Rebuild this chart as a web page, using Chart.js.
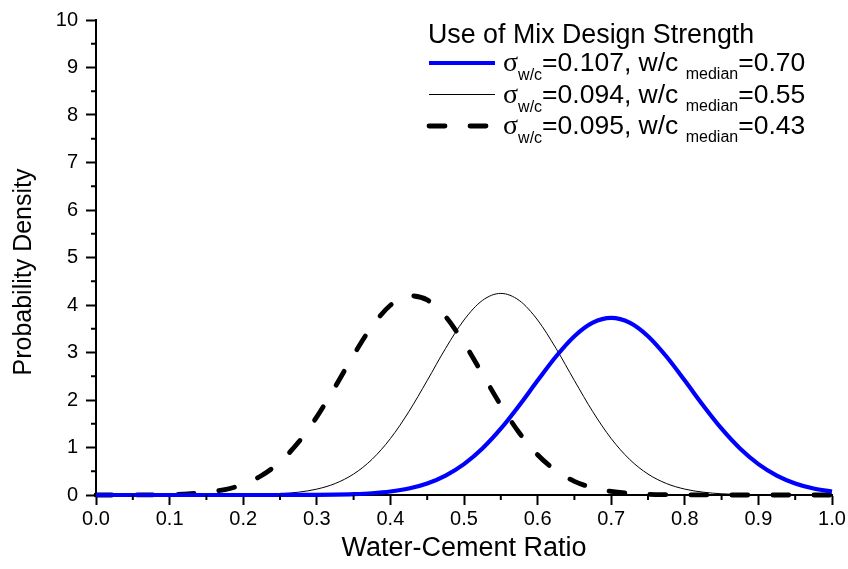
<!DOCTYPE html>
<html lang="en">
<head>
<meta charset="UTF-8">
<title>Water-Cement Ratio Distribution</title>
<script src="https://cdn.jsdelivr.net/npm/chart.js@4"></script>
<style>
  body { margin: 0; background: #fff; }
  #wrap { width: 848px; height: 569px; }
</style>
</head>
<body>
<div id="wrap"><canvas id="pdfChart" width="848" height="569"></canvas></div>
<script>
// water-cement ratio sample points
const wcRatio = [0.000, 0.025, 0.050, 0.075, 0.100, 0.125, 0.150, 0.175, 0.200, 0.225,
                 0.250, 0.275, 0.300, 0.325, 0.350, 0.375, 0.400, 0.425, 0.450, 0.475,
                 0.500, 0.525, 0.550, 0.575, 0.600, 0.625, 0.650, 0.675, 0.700, 0.725,
                 0.750, 0.775, 0.800, 0.825, 0.850, 0.875, 0.900, 0.925, 0.950, 0.975, 1.000];

// probability density for each mix design
const density070 = [0, 0, 0, 0, 0, 0, 0, 0, 0, 0.0001,
                    0.0005, 0.0014, 0.0034, 0.008, 0.018, 0.037, 0.073, 0.137, 0.243, 0.409,
                    0.650, 0.979, 1.395, 1.884, 2.409, 2.916, 3.343, 3.628, 3.728, 3.628,
                    3.343, 2.916, 2.409, 1.884, 1.395, 0.979, 0.650, 0.409, 0.243, 0.137, 0.073];
const density055 = [0, 0, 0, 0, 0, 0, 0.0005, 0.0015, 0.004, 0.011,
                    0.026, 0.059, 0.124, 0.242, 0.441, 0.750, 1.188, 1.753, 2.410, 3.087,
                    3.684, 4.096, 4.244, 4.096, 3.684, 3.087, 2.410, 1.753, 1.188, 0.750,
                    0.441, 0.242, 0.124, 0.059, 0.026, 0.011, 0.004, 0.0015, 0.0005, 0, 0];
const density043 = [0.0002, 0.0005, 0.0014, 0.004, 0.010, 0.024, 0.055, 0.114, 0.224, 0.409,
                    0.697, 1.109, 1.646, 2.280, 2.946, 3.551, 3.995, 4.193, 4.107, 3.754,
                    3.200, 2.547, 1.891, 1.310, 0.847, 0.511, 0.288, 0.151, 0.074, 0.034,
                    0.014, 0.006, 0.002, 0.0007, 0.0002, 0, 0, 0, 0, 0, 0];

const sigmas = ['0.107', '0.094', '0.095'];
const medians = ['0.70', '0.55', '0.43'];

// labelled (major) ticks
const xMajorTicks = [0.0, 0.1, 0.2, 0.3, 0.4, 0.5, 0.6, 0.7, 0.8, 0.9, 1.0];
const yMajorTicks = [0, 1, 2, 3, 4, 5, 6, 7, 8, 9, 10];

const FONT = '"Liberation Sans", Arial, sans-serif';

function toPoints(ys) {
    return wcRatio.map((x, i) => ({ x: x, y: ys[i] }));
}
function isMajor(list, v) {
    return list.some(t => Math.abs(t - v) < 1e-6);
}

// short minor ticks between the labelled ones, plus the y axis title
const axisExtras = {
    id: 'axisExtras',
    afterDraw(chart) {
        const ctx = chart.ctx;
        const xs = chart.scales.x, ys = chart.scales.y;
        ctx.save();
        ctx.strokeStyle = '#000';
        ctx.lineWidth = 2;
        ctx.beginPath();
        xs.ticks.forEach(t => {
            if (isMajor(xMajorTicks, t.value)) return;
            const px = xs.getPixelForValue(t.value);
            ctx.moveTo(px, ys.bottom);
            ctx.lineTo(px, ys.bottom + 5);
        });
        ys.ticks.forEach(t => {
            if (isMajor(yMajorTicks, t.value)) return;
            const py = ys.getPixelForValue(t.value);
            ctx.moveTo(xs.left, py);
            ctx.lineTo(xs.left - 5, py);
        });
        ctx.stroke();

        ctx.translate(24, 272);
        ctx.rotate(-Math.PI / 2);
        ctx.fillStyle = '#000';
        ctx.font = '25px ' + FONT;
        ctx.textAlign = 'center';
        ctx.textBaseline = 'middle';
        ctx.fillText('Probability Density', 0, 0);
        ctx.restore();
    }
};

// legend box with subscripted labels
const mixLegend = {
    id: 'mixLegend',
    afterDraw(chart) {
        const ctx = chart.ctx;
        ctx.save();
        ctx.fillStyle = '#000';
        ctx.textBaseline = 'alphabetic';
        ctx.textAlign = 'left';
        ctx.font = '26.8px ' + FONT;
        ctx.fillText('Use of Mix Design Strength', 428, 43);

        chart.data.datasets.forEach((ds, i) => {
            const y = 63 + i * 31.5;
            ctx.beginPath();
            ctx.strokeStyle = ds.borderColor;
            ctx.lineWidth = ds.borderWidth;
            ctx.lineCap = ds.borderCapStyle || 'butt';
            ctx.setLineDash(ds.borderDash || []);
            ctx.moveTo(429, y);
            ctx.lineTo(495, y);
            ctx.stroke();
            ctx.setLineDash([]);

            const base = y + 8;
            let x = 503;
            const put = (text, font, dy) => {
                ctx.font = font;
                ctx.fillText(text, x, base + dy);
                x += ctx.measureText(text).width;
            };
            put('\u03c3', '28px "Liberation Serif", serif', 0);
            put('w/c', '16px ' + FONT, 9);
            put('=' + sigmas[i] + ', w/c ', '26.5px ' + FONT, 0);
            put('median', '16px ' + FONT, 8);
            put('=' + medians[i], '26.5px ' + FONT, 0);
        });
        ctx.restore();
    }
};

new Chart(document.getElementById('pdfChart'), {
    type: 'line',
    data: {
        datasets: [
            {
                label: '\u03c3w/c=0.107, w/c median=0.70',
                data: toPoints(density070),
                borderColor: '#0000ff',
                borderWidth: 4.2,
                cubicInterpolationMode: 'monotone',
                pointRadius: 0,
                clip: false
            },
            {
                label: '\u03c3w/c=0.094, w/c median=0.55',
                data: toPoints(density055),
                borderColor: '#000000',
                borderWidth: 1,
                cubicInterpolationMode: 'monotone',
                pointRadius: 0,
                clip: false
            },
            {
                label: '\u03c3w/c=0.095, w/c median=0.43',
                data: toPoints(density043),
                borderColor: '#000000',
                borderWidth: 4.8,
                borderDash: [16, 25],
                borderCapStyle: 'round',
                cubicInterpolationMode: 'monotone',
                pointRadius: 0,
                clip: false
            }
        ]
    },
    options: {
        responsive: false,
        animation: false,
        layout: { padding: { top: 20, right: 16, left: 0, bottom: 0 } },
        plugins: {
            legend: { display: false },
            tooltip: { enabled: false }
        },
        scales: {
            x: {
                type: 'linear',
                min: 0,
                max: 1,
                afterFit: s => { s.height = 74; },
                border: { color: '#000', width: 2 },
                grid: {
                    drawOnChartArea: false,
                    tickLength: 10,
                    tickWidth: 2,
                    tickColor: c => isMajor(xMajorTicks, c.tick.value) ? '#000' : 'rgba(0,0,0,0)'
                },
                ticks: {
                    stepSize: 0.05,
                    autoSkip: false,
                    maxRotation: 0,
                    padding: 2,
                    color: '#000',
                    font: { family: FONT, size: 20 },
                    callback: v => isMajor(xMajorTicks, v) ? v.toFixed(1) : ''
                },
                title: {
                    display: true,
                    text: 'Water-Cement Ratio',
                    color: '#000',
                    font: { family: FONT, size: 27 },
                    padding: { top: 0, bottom: 4 }
                }
            },
            y: {
                min: 0,
                max: 10,
                afterFit: s => { s.width = 96; },
                border: { color: '#000', width: 2 },
                grid: {
                    drawOnChartArea: false,
                    tickLength: 10,
                    tickWidth: 2,
                    tickColor: c => isMajor(yMajorTicks, c.tick.value) ? '#000' : 'rgba(0,0,0,0)'
                },
                ticks: {
                    stepSize: 0.5,
                    autoSkip: false,
                    padding: 8,
                    color: '#000',
                    font: { family: FONT, size: 20 },
                    callback: v => isMajor(yMajorTicks, v) ? String(v) : ''
                }
            }
        }
    },
    plugins: [axisExtras, mixLegend]
});
</script>
</body>
</html>
